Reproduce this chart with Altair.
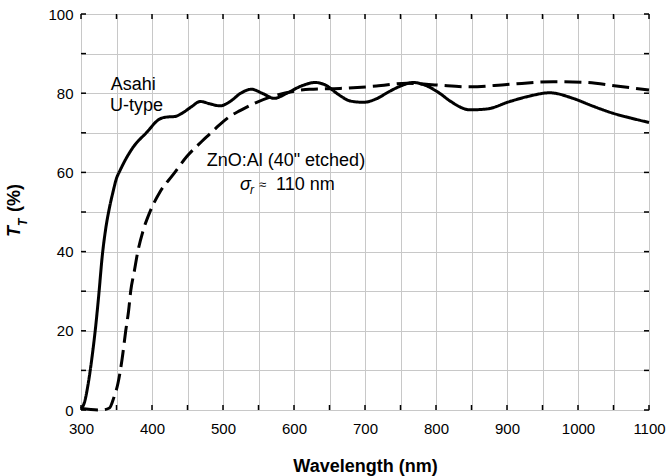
import altair as alt
import pandas as pd

# ---- data ----
ASAHI_WL = [300, 305, 310, 313, 316, 320, 325, 330, 335, 340, 345, 350, 355, 362, 374,
            392, 411, 422, 432, 442, 455, 468, 482, 496, 510, 525, 540, 555, 572, 590,
            610, 630, 645, 660, 680, 698, 715, 735, 750, 768, 785, 805, 820, 848, 871,
            904, 930, 960, 993, 1020, 1050, 1075, 1100]
ASAHI_T = [0.3, 2, 6.5, 10, 14, 20, 29, 39, 46, 51, 55, 58.5, 60.5, 63, 66.5,
           70, 73.5, 74, 74.1, 74.9, 76.5, 77.9, 77.3, 76.8, 77.9, 80, 81, 80, 78.7, 80,
           81.8, 82.7, 82, 80, 78, 77.7, 78.5, 80.5, 81.8, 82.7, 82, 80, 78, 75.8, 76,
           77.9, 79.2, 80.1, 78.7, 76.8, 74.9, 73.7, 72.6]

ZNO_WL = [300, 329, 340, 346, 352, 358, 363, 367, 370, 375, 380, 387, 397, 411, 430,
          449, 470, 482, 495, 510, 524, 545, 575, 600, 622, 665, 716, 759, 790, 806,
          848, 900, 965, 1012, 1054, 1100]
ZNO_T = [0.4, 0, 0.5, 3, 6.7, 13, 20, 25, 30, 35, 40, 45, 50, 55, 59.5,
         64, 67.8, 69.8, 72, 74.2, 75.6, 77.5, 79.5, 80.5, 81, 81.2, 81.8, 82.5, 82.2, 82,
         81.6, 82.2, 82.9, 82.7, 81.8, 80.8]

X_TICKS = [300, 350, 400, 450, 500, 550, 600, 650, 700, 750, 800, 850, 900, 950, 1000, 1050, 1100]
Y_TICKS = [0, 10, 20, 30, 40, 50, 60, 70, 80, 90, 100]

ANN_TEXT = ["Asahi", "U-type", 'ZnO:Al (40" etched)']
ANN_X = [342, 341, 477]
ANN_Y = [80.8, 75.6, 61.6]

SIGMA_X = [524]
SIGMA_Y = [55.5]

W, H = 568, 396
FONT = "Liberation Sans"

curves = pd.concat([
    pd.DataFrame({"wl": ASAHI_WL, "T": ASAHI_T, "series": "Asahi"}),
    pd.DataFrame({"wl": ZNO_WL, "T": ZNO_T, "series": "ZnO"}),
])

xs = alt.Scale(domain=[300, 1100], nice=False, zero=False)
ys = alt.Scale(domain=[0, 100], nice=False, zero=False)

x_axis = alt.Axis(values=X_TICKS, format="d",
                  labelExpr="datum.value % 100 == 0 ? datum.label : ''",
                  grid=True, gridColor="#c8c8c8", gridWidth=1,
                  ticks=False, domain=False, labelFont=FONT, labelFontSize=15,
                  labelColor="black", labelPadding=11, labelFlush=False, labelOverlap=False,
                  title="Wavelength (nm)", titleFont=FONT, titleFontSize=18,
                  titleFontWeight="bold", titleColor="black", titleBaseline="alphabetic",
                  titleY=61)
y_axis = alt.Axis(values=Y_TICKS, format="d",
                  labelExpr="datum.value % 20 == 0 ? datum.label : ''",
                  grid=True, gridColor="#c8c8c8", gridWidth=1,
                  ticks=False, domain=False, labelFont=FONT, labelFontSize=15,
                  labelColor="black", labelPadding=8, labelFlush=False, labelOverlap=False,
                  title=None)


def X():
    return alt.X("wl:Q", scale=xs, axis=x_axis)


def Y():
    return alt.Y("T:Q", scale=ys, axis=y_axis)


lines = alt.Chart(curves).mark_line(color="black", strokeWidth=3, interpolate="monotone").encode(
    x=X(), y=Y(),
    strokeDash=alt.StrokeDash("series:N",
                              scale=alt.Scale(domain=["Asahi", "ZnO"], range=[[1, 0], [17, 7]]),
                              legend=None),
    detail="series:N",
)

xt = pd.DataFrame({"wl": X_TICKS})
yt = pd.DataFrame({"T": Y_TICKS})
tick_style = dict(color="black", strokeWidth=1.5)
ticks_bottom = alt.Chart(xt).mark_rule(**tick_style).encode(
    x=X(), y=alt.value(H), y2=alt.value(H - 5))
ticks_top = alt.Chart(xt).mark_rule(**tick_style).encode(
    x=X(), y=alt.value(0), y2=alt.value(5))
ticks_left = alt.Chart(yt).mark_rule(**tick_style).encode(
    y=Y(), x=alt.value(0), x2=alt.value(5))
ticks_right = alt.Chart(yt).mark_rule(**tick_style).encode(
    y=Y(), x=alt.value(W), x2=alt.value(W - 5))

ann = alt.Chart(pd.DataFrame({"wl": ANN_X, "T": ANN_Y, "txt": ANN_TEXT})).mark_text(
    font=FONT, fontSize=18, align="left", baseline="alphabetic", color="black").encode(
    x=X(), y=Y(), text="txt:N")

sig_df = pd.DataFrame({"wl": SIGMA_X, "T": SIGMA_Y})


def sig_piece(txt, dx, dy, size, style="normal"):
    return alt.Chart(sig_df).mark_text(
        font=FONT, fontSize=size, fontStyle=style, align="left", baseline="alphabetic",
        color="black", dx=dx, dy=dy, text=txt).encode(x=X(), y=Y())


sigma = sig_piece("σ", 0, 0, 18, "italic")
sub_r = sig_piece("r", 10, 4, 12, "italic")
approx = sig_piece("≈", 19, -1, 13)
rest = sig_piece("110 nm", 36, 0, 18)

title_df = pd.DataFrame({"k": [0]})


def ytitle(txt, xpix, ypix, size, style):
    return alt.Chart(title_df).mark_text(
        font=FONT, fontSize=size, fontStyle=style, fontWeight="bold", angle=270,
        align="left", baseline="alphabetic", color="black", text=txt).encode(
        x=alt.value(xpix), y=alt.value(ypix))


yt_main = ytitle("T", -61, 223, 18, "italic")
yt_sub = ytitle("T", -54, 212, 12, "italic")
yt_rest = ytitle("(%)", -61, 198, 18, "normal")

chart = alt.layer(
    lines, ticks_bottom, ticks_top, ticks_left, ticks_right,
    ann, sigma, sub_r, approx, rest, yt_main, yt_sub, yt_rest,
).properties(
    width=W, height=H,
    autosize=alt.AutoSizeParams(type="none"),
    padding={"left": 81, "top": 14, "right": 17, "bottom": 66},
).configure_view(stroke="black", strokeWidth=1.5).configure(background="white")

chart.save("out.html", embed_options={"renderer": "svg", "actions": False})
